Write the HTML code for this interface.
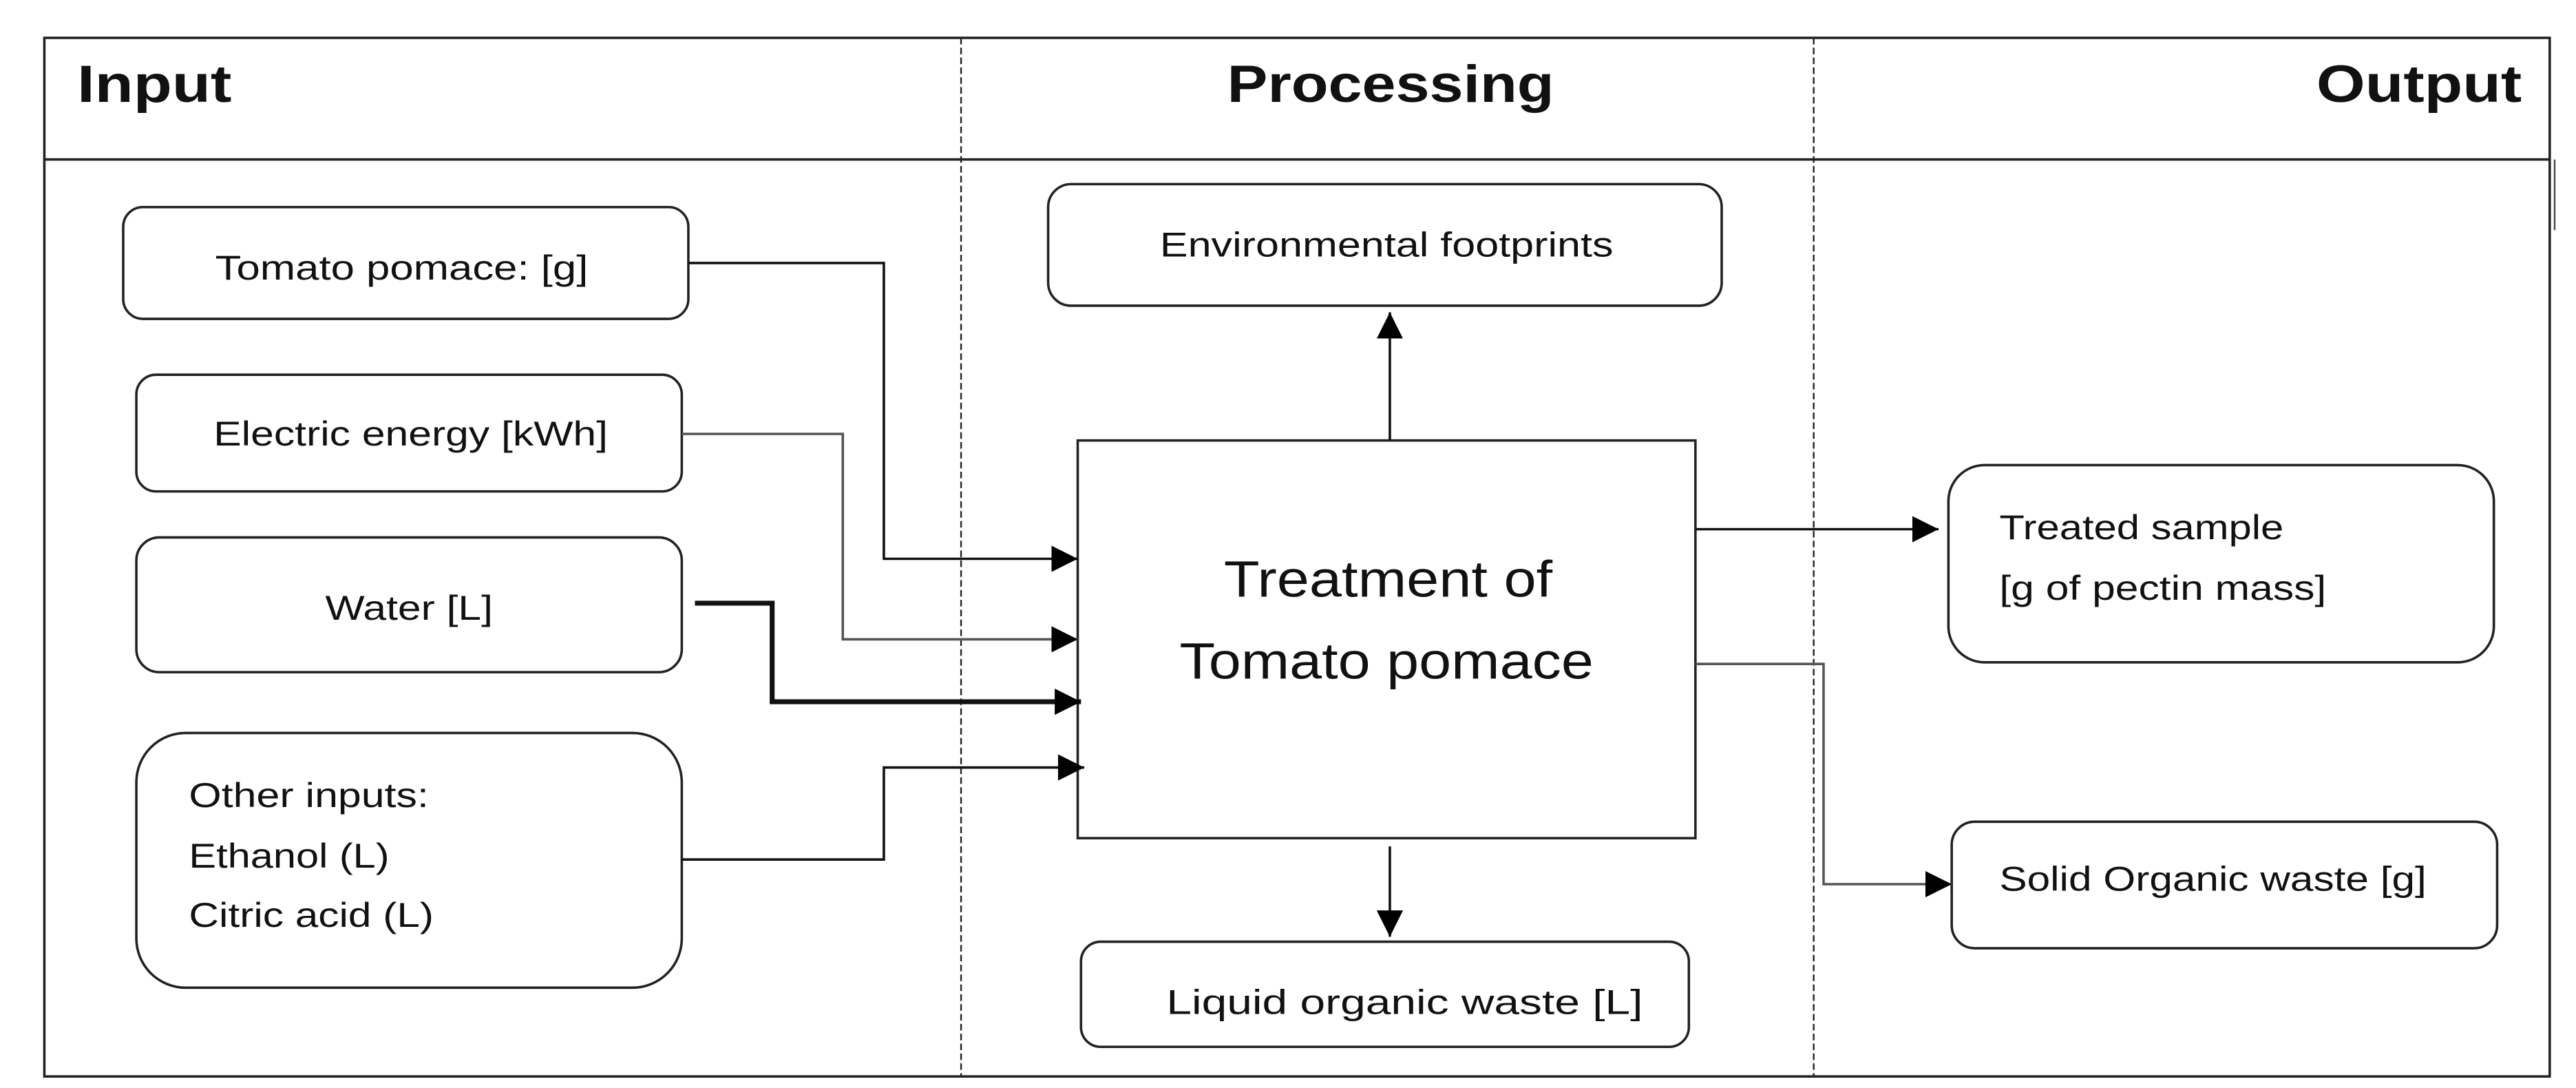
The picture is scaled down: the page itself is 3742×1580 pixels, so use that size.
<!DOCTYPE html>
<html><head><style>html,body{margin:0;padding:0;background:#fff}svg{display:block}</style></head>
<body>
<svg width="3742" height="1580" viewBox="0 0 1568 662" xmlns="http://www.w3.org/2000/svg" font-family="Liberation Sans, sans-serif">
<defs>
<marker id="b" viewBox="0 0 10 10" refX="10" refY="5" markerWidth="16" markerHeight="16" markerUnits="userSpaceOnUse" orient="auto"><path d="M0,0L10,5L0,10z" fill="#000"/></marker>
</defs>
<rect x="27" y="23" width="1525" height="632" fill="none" stroke="#222" stroke-width="1.5"/>
<line x1="27" y1="97" x2="1552" y2="97" stroke="#222" stroke-width="1.5"/>
<line x1="1555" y1="97" x2="1555" y2="140" stroke="#444" stroke-width="1"/>
<line x1="585" y1="23" x2="585" y2="655" stroke="#222" stroke-width="1" stroke-dasharray="4,2"/>
<line x1="1104" y1="23" x2="1104" y2="655" stroke="#222" stroke-width="1" stroke-dasharray="4,2"/>
<g font-weight="bold" font-size="32" fill="#111" lengthAdjust="spacingAndGlyphs">
<text x="47" y="62" textLength="94" lengthAdjust="spacingAndGlyphs">Input</text>
<text x="747" y="62" textLength="199" lengthAdjust="spacingAndGlyphs">Processing</text>
<text x="1410" y="62" textLength="125" lengthAdjust="spacingAndGlyphs">Output</text>
</g>
<g fill="#fff" stroke="#222" stroke-width="1.5">
<rect x="75" y="126" width="344" height="68" rx="12"/>
<rect x="83" y="228" width="332" height="71" rx="12"/>
<rect x="83" y="327" width="332" height="82" rx="14"/>
<rect x="83" y="446" width="332" height="155" rx="30"/>
<rect x="638" y="112" width="410" height="74" rx="14"/>
<rect x="656" y="268" width="376" height="242" rx="0"/>
<rect x="658" y="573" width="370" height="64" rx="12"/>
<rect x="1186" y="283" width="332" height="120" rx="22"/>
<rect x="1188" y="500" width="332" height="77" rx="14"/>
</g>
<g font-size="21" fill="#111">
<text x="131" y="170" textLength="227" lengthAdjust="spacingAndGlyphs">Tomato  pomace: [g]</text>
<text x="130" y="271" textLength="240" lengthAdjust="spacingAndGlyphs">Electric  energy [kWh]</text>
<text x="198" y="377" textLength="102" lengthAdjust="spacingAndGlyphs">Water [L]</text>
<text x="115" y="491" textLength="146" lengthAdjust="spacingAndGlyphs">Other inputs:</text>
<text x="115" y="528" textLength="122" lengthAdjust="spacingAndGlyphs">Ethanol (L)</text>
<text x="115" y="564" textLength="149" lengthAdjust="spacingAndGlyphs">Citric acid (L)</text>
<text x="706" y="156" textLength="276" lengthAdjust="spacingAndGlyphs">Environmental  footprints</text>
<text x="710" y="617" textLength="290" lengthAdjust="spacingAndGlyphs">Liquid  organic  waste [L]</text>
<text x="1217" y="328" textLength="173" lengthAdjust="spacingAndGlyphs">Treated sample</text>
<text x="1217" y="365" textLength="199" lengthAdjust="spacingAndGlyphs">[g of pectin mass]</text>
<text x="1217" y="542" textLength="260" lengthAdjust="spacingAndGlyphs">Solid  Organic waste [g]</text>
</g>
<g font-size="31" fill="#111">
<text x="745" y="363" textLength="200" lengthAdjust="spacingAndGlyphs">Treatment of</text>
<text x="718" y="413" textLength="252" lengthAdjust="spacingAndGlyphs">Tomato pomace</text>
</g>
<g fill="none" stroke="#111" stroke-width="1.5">
<polyline points="419,160 538,160 538,340 656,340" marker-end="url(#b)"/>
<polyline points="415,264 513,264 513,389 656,389" stroke="#555" marker-end="url(#b)"/>
<polyline points="423,367 470,367 470,427 658,427" stroke-width="3" marker-end="url(#b)"/>
<polyline points="415,523 538,523 538,467 660,467" marker-end="url(#b)"/>
<line x1="846" y1="268" x2="846" y2="190" marker-end="url(#b)"/>
<line x1="846" y1="515" x2="846" y2="570" marker-end="url(#b)"/>
<line x1="1032" y1="322" x2="1180" y2="322" marker-end="url(#b)"/>
<polyline points="1032,404 1110,404 1110,538 1188,538" stroke="#555" marker-end="url(#b)"/>
</g>
</svg>
</body></html>
